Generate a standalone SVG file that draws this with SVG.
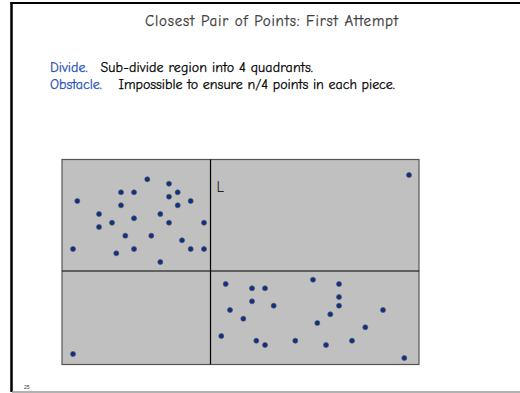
<svg xmlns="http://www.w3.org/2000/svg" width="520" height="393" viewBox="0 0 520 393">
<style>
.t{font-family:"Comic Sans MS","Comic Neue","Liberation Sans","DejaVu Sans",sans-serif;font-size:14px;stroke-width:0.25}
.title{fill:#404040;stroke:#404040;font-size:15px}
.blue{fill:#1F4FB4;stroke:#1F4FB4}
.blk{fill:#000;stroke:#000}
.pt{fill:#0A2F8C;stroke:#555;stroke-width:0.7}
</style>
<rect x="0" y="0" width="520" height="393" fill="#fff"/>
<g id="frame">
<line x1="11.5" y1="2" x2="11.5" y2="392" stroke="#000" stroke-width="2.5"/>
<line x1="10.5" y1="3" x2="520" y2="3" stroke="#000" stroke-width="2"/>
<line x1="12" y1="392" x2="520" y2="392" stroke="#999" stroke-width="1.5"/>
</g>
<g id="text">
<text class="t title" x="271.5" y="26" text-anchor="middle" textLength="253" lengthAdjust="spacing">Closest Pair of Points:  First Attempt</text>
<text class="t blue" x="50" y="72">Divide.</text>
<text class="t blk" x="100.5" y="72" textLength="212.5" lengthAdjust="spacing">Sub-divide region into 4 quadrants.</text>
<text class="t blue" x="50" y="89">Obstacle.</text>
<text class="t blk" x="118.5" y="89" textLength="276.5" lengthAdjust="spacing">Impossible to ensure n/4 points in each piece.</text>
<text x="24" y="389" font-family="Liberation Sans, sans-serif" font-size="5" fill="#333">25</text>
</g>
<g id="region">
<rect x="62" y="159.5" width="357" height="205" fill="#C0C0C0" stroke="#555" stroke-width="1.2"/>
<line x1="210.5" y1="159.5" x2="210.5" y2="364.5" stroke="#000" stroke-width="1.2"/>
<line x1="62" y1="271" x2="419" y2="271" stroke="#000" stroke-width="1.2"/>
<text x="216.5" y="191.5" font-family="Comic Neue, Liberation Sans, sans-serif" font-size="15" fill="#222">L</text>
</g>
<g id="points">
<circle class="pt" cx="147.3" cy="179.3" r="2.5"/>
<circle class="pt" cx="169" cy="183.7" r="2.5"/>
<circle class="pt" cx="121" cy="192.3" r="2.5"/>
<circle class="pt" cx="134" cy="192.3" r="2.5"/>
<circle class="pt" cx="177.7" cy="192.3" r="2.5"/>
<circle class="pt" cx="169" cy="196.7" r="2.5"/>
<circle class="pt" cx="77.3" cy="201" r="2.5"/>
<circle class="pt" cx="190.7" cy="201" r="2.5"/>
<circle class="pt" cx="121" cy="205.3" r="2.5"/>
<circle class="pt" cx="177.7" cy="205.3" r="2.5"/>
<circle class="pt" cx="99" cy="214" r="2.5"/>
<circle class="pt" cx="160.3" cy="214" r="2.5"/>
<circle class="pt" cx="134" cy="218.3" r="2.5"/>
<circle class="pt" cx="112" cy="222.7" r="2.5"/>
<circle class="pt" cx="169" cy="222.7" r="2.5"/>
<circle class="pt" cx="204" cy="222.7" r="2.5"/>
<circle class="pt" cx="99" cy="227" r="2.5"/>
<circle class="pt" cx="125.3" cy="235.7" r="2.5"/>
<circle class="pt" cx="151.3" cy="235.7" r="2.5"/>
<circle class="pt" cx="182" cy="240.3" r="2.5"/>
<circle class="pt" cx="73" cy="249" r="2.5"/>
<circle class="pt" cx="134" cy="249" r="2.5"/>
<circle class="pt" cx="190.7" cy="249" r="2.5"/>
<circle class="pt" cx="204" cy="249" r="2.5"/>
<circle class="pt" cx="116.3" cy="253.3" r="2.5"/>
<circle class="pt" cx="160.3" cy="262" r="2.5"/>
<circle class="pt" cx="409" cy="175" r="2.5"/>
<circle class="pt" cx="73" cy="354" r="2.5"/>
<circle class="pt" cx="225.7" cy="284" r="2.5"/>
<circle class="pt" cx="313" cy="279.7" r="2.5"/>
<circle class="pt" cx="339" cy="284" r="2.5"/>
<circle class="pt" cx="252" cy="288.3" r="2.5"/>
<circle class="pt" cx="265" cy="288.3" r="2.5"/>
<circle class="pt" cx="339" cy="297" r="2.5"/>
<circle class="pt" cx="252" cy="301.3" r="2.5"/>
<circle class="pt" cx="273.7" cy="305.7" r="2.5"/>
<circle class="pt" cx="339" cy="305.7" r="2.5"/>
<circle class="pt" cx="230" cy="310" r="2.5"/>
<circle class="pt" cx="383" cy="310" r="2.5"/>
<circle class="pt" cx="330.3" cy="314.3" r="2.5"/>
<circle class="pt" cx="243.3" cy="318.7" r="2.5"/>
<circle class="pt" cx="317.3" cy="323" r="2.5"/>
<circle class="pt" cx="365.3" cy="327.3" r="2.5"/>
<circle class="pt" cx="221.3" cy="336" r="2.5"/>
<circle class="pt" cx="256.3" cy="340.7" r="2.5"/>
<circle class="pt" cx="295.3" cy="340.7" r="2.5"/>
<circle class="pt" cx="352" cy="340.7" r="2.5"/>
<circle class="pt" cx="265" cy="345" r="2.5"/>
<circle class="pt" cx="326" cy="345" r="2.5"/>
<circle class="pt" cx="404.3" cy="358" r="2.5"/>
</g>
</svg>
